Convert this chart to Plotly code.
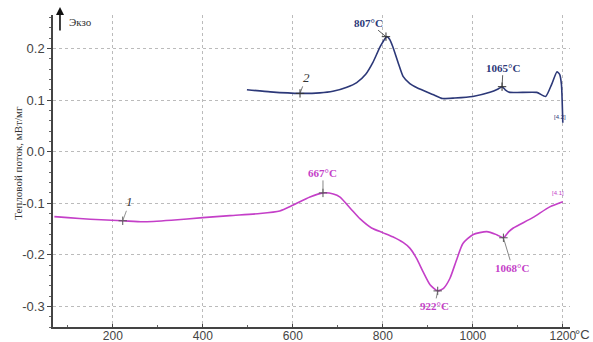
import plotly.graph_objects as go

# Curve 1 (magenta)
t1 = [70, 100, 150, 222, 267, 330, 400, 460, 527, 571, 600, 638, 667, 690, 705, 730, 749, 775,
      800, 822, 845, 860, 875, 889, 905, 922, 935, 949, 963, 978, 1000, 1031, 1053, 1068, 1080,
      1090, 1133, 1171, 1200]
v1 = [-0.126, -0.128, -0.131, -0.134, -0.136, -0.133, -0.128, -0.124, -0.120, -0.115, -0.104,
      -0.088, -0.080, -0.082, -0.088, -0.112, -0.130, -0.148, -0.157, -0.165, -0.176, -0.187,
      -0.207, -0.232, -0.258, -0.270, -0.265, -0.246, -0.212, -0.178, -0.161, -0.155, -0.161,
      -0.167, -0.155, -0.148, -0.128, -0.107, -0.097]

# Curve 2 (navy)
t2 = [498, 550, 616, 660, 689, 720, 742, 762, 778, 795, 809, 815, 822, 835, 845, 860, 876, 911,
      933, 960, 1000, 1038, 1055, 1065, 1072, 1082, 1142, 1162, 1175, 1187, 1193, 1197, 1200]
v2 = [0.120, 0.116, 0.113, 0.114, 0.117, 0.125, 0.134, 0.150, 0.173, 0.205, 0.223, 0.218, 0.204,
      0.170, 0.146, 0.132, 0.124, 0.111, 0.103, 0.104, 0.107, 0.115, 0.121, 0.126, 0.120, 0.115,
      0.115, 0.107, 0.130, 0.155, 0.150, 0.130, 0.056]

# Annotated points
pk1_t = [667, 922, 1068]
pk1_v = [-0.080, -0.270, -0.167]
pk1_lbl = ["667°C", "922°C", "1068°C"]
pk1_off = [(0, -20), (-3, 15), (9, 30)]

pk2_t = [807, 1065]
pk2_v = [0.223, 0.126]
pk2_lbl = ["807°C", "1065°C"]
pk2_off = [(-17, -14), (1, -19)]

x_ticks = [200, 400, 600, 800, 1000, 1200]
y_ticks = [-0.3, -0.2, -0.1, 0.0, 0.1, 0.2]
y_ticktext = ["-0.3", "-0.2", "-0.1", "0.0", "0.1", "0.2"]

C1 = "#c43fc8"
C2 = "#2c3878"
SERIF = "Liberation Serif, Times New Roman, serif"
SANS = "Liberation Sans, Arial, sans-serif"

fig = go.Figure()
fig.add_trace(go.Scatter(x=t1, y=v1, mode="lines", line=dict(color=C1, width=1.6, shape="spline", smoothing=0.6),
                         hoverinfo="skip"))
fig.add_trace(go.Scatter(x=t2, y=v2, mode="lines", line=dict(color=C2, width=1.6, shape="spline", smoothing=0.5),
                         hoverinfo="skip"))
fig.add_trace(go.Scatter(x=pk1_t + [222], y=pk1_v + [-0.134], mode="markers",
                         marker=dict(symbol="cross-thin", size=6, line=dict(color="#555", width=1)),
                         hoverinfo="skip"))
fig.add_trace(go.Scatter(x=pk2_t + [616], y=pk2_v + [0.113], mode="markers",
                         marker=dict(symbol="cross-thin", size=6, line=dict(color="#333", width=1)),
                         hoverinfo="skip"))

anns = []
for t, v, l, (ax, ay) in zip(pk1_t, pk1_v, pk1_lbl, pk1_off):
    anns.append(dict(x=t, y=v, text="<b>%s</b>" % l, showarrow=True, arrowhead=0, arrowwidth=0.8,
                     arrowcolor="#666", ax=ax, ay=ay, font=dict(family=SERIF, size=11, color=C1)))
for t, v, l, (ax, ay) in zip(pk2_t, pk2_v, pk2_lbl, pk2_off):
    anns.append(dict(x=t, y=v, text="<b>%s</b>" % l, showarrow=True, arrowhead=0, arrowwidth=0.8,
                     arrowcolor="#333", ax=ax, ay=ay, font=dict(family=SERIF, size=11, color=C2)))
# curve number labels
anns.append(dict(x=222, y=-0.134, text="<i>1</i>", showarrow=True, arrowhead=0, arrowwidth=0.8,
                 arrowcolor="#777", ax=7, ay=-19, font=dict(family=SERIF, size=13, color="#333")))
anns.append(dict(x=616, y=0.113, text="<i>2</i>", showarrow=True, arrowhead=0, arrowwidth=0.8,
                 arrowcolor="#555", ax=6, ay=-16, font=dict(family=SERIF, size=13, color="#333")))
# small segment labels
anns.append(dict(x=1189, y=-0.080, text="[4.1]", showarrow=False, font=dict(family=SANS, size=6, color=C1)))
anns.append(dict(x=1193, y=0.068, text="[4.2]", showarrow=False, font=dict(family=SANS, size=6, color=C2)))
# Exo arrow and text
anns.append(dict(x=0.0135, y=1.026, xref="paper", yref="paper", text="", showarrow=True, arrowhead=2,
                 arrowsize=1, arrowwidth=1.6, arrowcolor="#111", ax=0, ay=25))
anns.append(dict(x=0.028, y=0.978, xref="paper", yref="paper", text="Экзо", showarrow=False,
                 xanchor="left", yanchor="middle",
                 font=dict(family=SERIF, size=11, color="#333")))
# y-axis title
anns.append(dict(x=-0.068, y=0.526, xref="paper", yref="paper", text="Тепловой поток, мВт/мг",
                 showarrow=False, textangle=-90, xanchor="center", yanchor="middle",
                 font=dict(family=SERIF, size=11, color="#333")))
# °C after 1200
anns.append(dict(x=1.006, y=-0.024, xref="paper", yref="paper", text="°C", showarrow=False,
                 xanchor="left", yanchor="middle",
                 font=dict(family=SANS, size=13, color="#444")))

fig.update_layout(
    width=593, height=342,
    margin=dict(l=53, r=23, t=15, b=15),
    paper_bgcolor="white", plot_bgcolor="white",
    showlegend=False,
    annotations=anns,
    xaxis=dict(range=[67, 1216], tickvals=x_ticks, ticktext=[str(v) for v in x_ticks],
               showgrid=True, gridcolor="#bbbbbb", griddash="dot", gridwidth=1,
               showline=True, linecolor="#444", linewidth=1.5, ticks="inside", ticklen=3,
               tickcolor="#444", tickfont=dict(family=SANS, size=12, color="#444"),
               ticklabelstandoff=-3,
               minor=dict(dtick=100, ticks="inside", ticklen=2, tickcolor="#666", showgrid=False),
               zeroline=False, automargin=False),
    yaxis=dict(range=[-0.34, 0.265], tickvals=y_ticks, ticktext=y_ticktext,
               showgrid=True, gridcolor="#bbbbbb", griddash="dot", gridwidth=1,
               showline=True, linecolor="#444", linewidth=1.5, ticks="outside", ticklen=4,
               tickcolor="#444", tickfont=dict(family=SANS, size=13, color="#444"),
               minor=dict(dtick=0.02, ticks="outside", ticklen=2, tickcolor="#666", showgrid=False),
               zeroline=False, automargin=False),
)

fig.write_html("out.html", config={"displayModeBar": False},
               post_script="document.body.style.margin='0px';document.body.style.overflow='hidden';")
